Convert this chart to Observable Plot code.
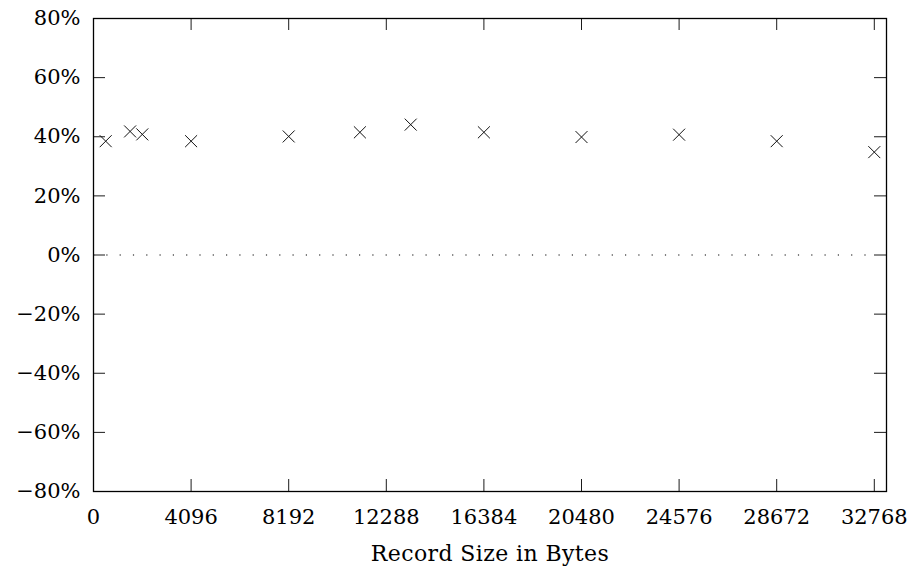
<!DOCTYPE html>
<html>
<head>
<meta charset="utf-8">
<script src="https://cdn.jsdelivr.net/npm/d3@7"></script>
<script src="https://cdn.jsdelivr.net/npm/@observablehq/plot@0.6"></script>
<style>
  html, body { margin: 0; padding: 0; background: #fff; }
  #chart svg, #chart svg text { font-family: "DejaVu Serif" !important; }
  #chart svg .xlabel text { letter-spacing: 0.4px; }
</style>
</head>
<body>
<div id="chart"></div>
<script>
const recordSizes = [512, 1536, 2048, 4096, 8192, 11180, 13312, 16384, 20480, 24576, 28672, 32768];
const overheadPct = [38.5, 41.8, 40.8, 38.5, 40.1, 41.5, 44.1, 41.5, 39.9, 40.7, 38.5, 34.8];
const xTicks = [0, 4096, 8192, 12288, 16384, 20480, 24576, 28672, 32768];
const yTicks = [-80, -60, -40, -20, 0, 20, 40, 60, 80];
const xLabel = "Record Size in Bytes";

const W = 917, H = 573;
const mT = 18, mB = 82, mL = 93, mR = 31;
const fh = H - mT - mB, fw = W - mL - mR;
const tl = 12;

const data = recordSizes.map((x, i) => ({x, y: overheadPct[i]}));
const pct = d => (d < 0 ? "\u2212" : "") + Math.abs(d) + "%";

const chart = Plot.plot({
  width: W, height: H,
  marginTop: mT, marginBottom: mB, marginLeft: mL, marginRight: mR,
  style: {fontFamily: "DejaVu Serif", fontSize: "21px", color: "#000", background: "#fff"},
  x: {domain: [0, 33280], ticks: xTicks, tickSize: 0, tickPadding: 17.5, tickFormat: d => String(d), label: null},
  y: {domain: [-80, 80], ticks: yTicks, tickSize: 0, tickPadding: 13, tickFormat: pct, label: null},
  marks: [
    Plot.ruleY([0], {x1: xTicks[0], x2: xTicks[xTicks.length - 1], stroke: "#000", strokeWidth: 1.1, strokeDasharray: "1.2,12.1"}),
    Plot.tickX(xTicks, {x: d => d, insetTop: fh - tl, stroke: "#000", strokeWidth: 0.9}),
    Plot.tickX(xTicks, {x: d => d, insetBottom: fh - tl, stroke: "#000", strokeWidth: 0.9}),
    Plot.tickY(yTicks, {y: d => d, insetRight: fw - tl, stroke: "#000", strokeWidth: 0.9}),
    Plot.tickY(yTicks, {y: d => d, insetLeft: fw - tl, stroke: "#000", strokeWidth: 0.9}),
    Plot.frame({stroke: "#000", strokeWidth: 1.3}),
    Plot.dot(data, {x: "x", y: "y", symbol: "times", r: 5.5, stroke: "#111", strokeWidth: 1}),
    Plot.text([xLabel], {frameAnchor: "bottom", dy: 62, text: d => d, fill: "#000", fontSize: 22, lineAnchor: "middle", className: "xlabel"})
  ]
});
document.getElementById("chart").appendChild(chart);
</script>
</body>
</html>
